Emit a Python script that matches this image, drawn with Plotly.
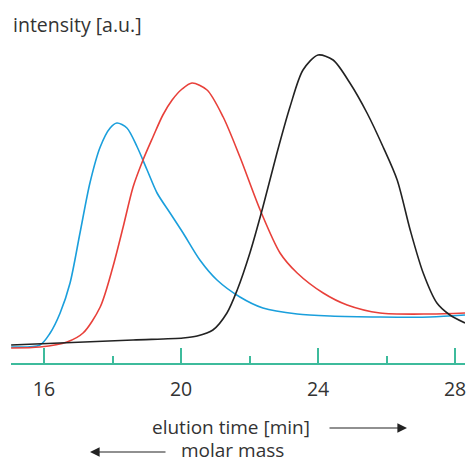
import plotly.graph_objects as go

# elution time [min] and intensity [a.u.]
blue_time = [15.04, 15.88, 16.18, 16.47, 16.76, 17.05, 17.34, 17.64, 17.93, 18.13, 18.42, 18.72,
             19.01, 19.30, 19.68, 20.06, 20.55, 21.05, 21.72, 22.39, 23.39, 24.35, 25.81, 27.27, 28.29]
blue_int = [16, 18, 30, 50, 80, 130, 180, 216, 235, 240, 235, 216,
            193, 170, 150, 130, 103, 83, 66, 55, 49, 47, 46, 46, 48]

red_time = [15.04, 15.88, 16.67, 17.14, 17.64, 18.01, 18.31, 18.60, 18.89, 19.18, 19.47, 19.74,
            20.03, 20.32, 20.76, 21.23, 21.72, 22.31, 22.89, 23.39, 24.15, 24.85, 25.81, 27.27, 28.29]
red_int = [15, 16, 21, 30, 56, 96, 136, 176, 203, 226, 248, 263,
           274, 280, 273, 246, 206, 153, 110, 90, 70, 58, 50, 49, 50]

black_time = [15.04, 18.60, 20.06, 20.47, 20.93, 21.34, 21.64, 22.01, 22.39, 22.80, 23.18, 23.56,
              24.00, 24.44, 24.93, 25.43, 25.90, 26.31, 26.69, 27.07, 27.47, 27.85, 28.29]
black_int = [18, 23, 25, 27, 33, 50, 73, 110, 156, 210, 256, 293,
             308, 303, 280, 250, 216, 183, 133, 90, 60, 48, 40]

major_ticks = [16, 20, 24, 28]
major_labels = ["16", "20", "24", "28"]
minor_ticks = [18, 22, 26]

FONT = "Open Sans"
FS = 19.5
FS_BOTTOM = 19
TEXT = "#333333"
TEAL = "#3dbb9c"

fig = go.Figure()
for t, v, c in [(blue_time, blue_int, "#1a9fdc"),
                (red_time, red_int, "#e8403a"),
                (black_time, black_int, "#222222")]:
    fig.add_trace(go.Scatter(x=t, y=v, mode="lines",
                             line=dict(color=c, width=1.6, shape="spline", smoothing=0.8),
                             showlegend=False, hoverinfo="skip"))

fig.update_layout(
    width=467, height=461,
    margin=dict(l=11, r=2, t=40, b=98),
    plot_bgcolor="white", paper_bgcolor="white",
    font=dict(family=FONT, size=FS, color=TEXT),
    xaxis=dict(range=[15.036, 28.29], showgrid=False, zeroline=False,
               showline=True, linecolor=TEAL, linewidth=2,
               ticks="inside", ticklen=15, tickwidth=1.6, tickcolor=TEAL,
               tickmode="array", tickvals=major_ticks, ticktext=major_labels,
               tickfont=dict(family=FONT, size=FS, color=TEXT),
               ticklabelstandoff=8,
               minor=dict(tickmode="array", tickvals=minor_ticks, ticks="inside",
                          ticklen=7, tickwidth=1.6, tickcolor=TEAL)),
    yaxis=dict(range=[0, 323], visible=False),
)

fig.add_annotation(text="intensity [a.u.]", xref="paper", yref="paper",
                   x=0.0, y=1 + 15 / 323, xanchor="left", yanchor="middle",
                   showarrow=False, font=dict(family=FONT, size=FS, color=TEXT))

fig.add_annotation(text="elution time [min]", xref="paper", yref="paper",
                   x=(231 - 11) / 454, y=(363 - 427) / 323, xanchor="center", yanchor="middle",
                   showarrow=False, font=dict(family=FONT, size=FS_BOTTOM, color=TEXT))
fig.add_annotation(text="molar mass", xref="paper", yref="paper",
                   x=(232 - 11) / 454, y=(363 - 450) / 323, xanchor="center", yanchor="middle",
                   showarrow=False, font=dict(family=FONT, size=FS_BOTTOM, color=TEXT))

# arrows
fig.add_annotation(text="", xref="paper", yref="paper",
                   x=(407 - 11) / 454, y=(363 - 428) / 323,
                   ax=-79, ay=0, axref="pixel", ayref="pixel",
                   showarrow=True, arrowhead=2, arrowsize=1.6, arrowwidth=1.2, arrowcolor="#222222")
fig.add_annotation(text="", xref="paper", yref="paper",
                   x=(90 - 11) / 454, y=(363 - 452) / 323,
                   ax=77, ay=0, axref="pixel", ayref="pixel",
                   showarrow=True, arrowhead=2, arrowsize=1.6, arrowwidth=1.2, arrowcolor="#222222")

fig.write_html("out.html", config={"displayModeBar": False},
               post_script="document.body.style.margin='0';document.body.style.overflow='hidden';")
